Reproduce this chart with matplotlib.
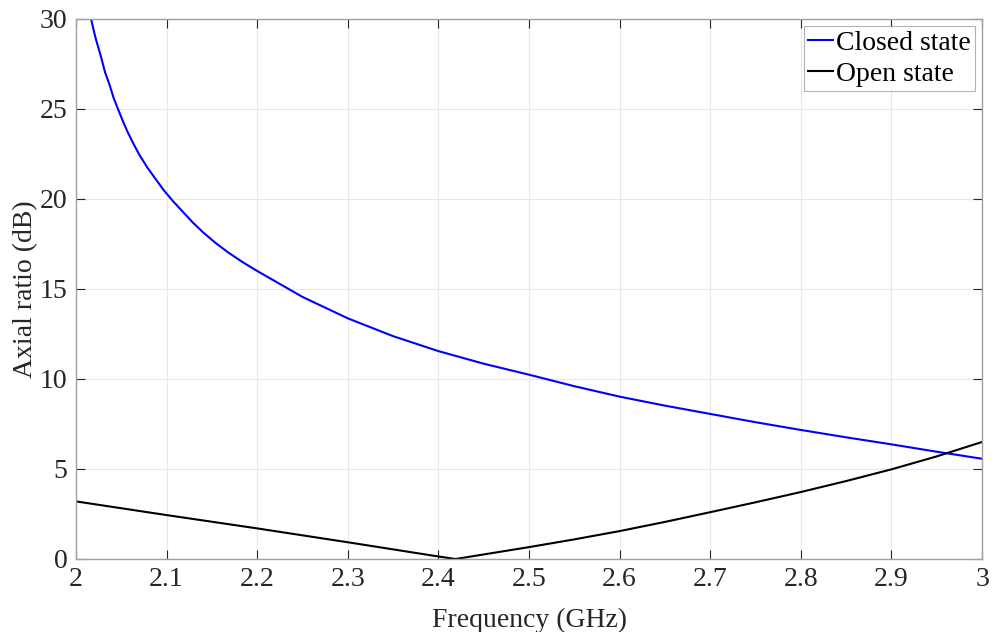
import matplotlib
matplotlib.use("Agg")
import matplotlib.pyplot as plt

# values
closed_f = [2.0166, 2.0215, 2.0276, 2.032, 2.0368, 2.0415, 2.046, 2.0515, 2.057,
            2.0635, 2.070, 2.079, 2.0883, 2.097, 2.1067, 2.117, 2.1288, 2.14,
            2.1545, 2.168, 2.184, 2.2, 2.25, 2.3, 2.35, 2.4, 2.45, 2.5, 2.55,
            2.6, 2.65, 2.7, 2.75, 2.8, 2.85, 2.9, 2.95, 3.0]
closed_ar = [30.0, 28.96, 27.9, 27.05, 26.38, 25.62, 25.04, 24.36, 23.72,
             23.06, 22.45, 21.73, 21.08, 20.48, 19.9, 19.34, 18.7, 18.16,
             17.54, 17.03, 16.49, 16.0, 14.56, 13.37, 12.38, 11.55, 10.85, 10.24, 9.6,
             9.02, 8.52, 8.06, 7.6, 7.17, 6.76, 6.37, 5.96, 5.57]

open_f = [2.0, 2.1, 2.2, 2.3, 2.4, 2.419, 2.5, 2.55, 2.6, 2.65, 2.7, 2.75,
          2.8, 2.85, 2.9, 2.95, 3.0]
open_ar = [3.2, 2.44, 1.70, 0.93, 0.14, 0.0, 0.66, 1.09, 1.55, 2.06, 2.6, 3.15,
           3.72, 4.33, 4.98, 5.7, 6.5]

xticks = [2, 2.1, 2.2, 2.3, 2.4, 2.5, 2.6, 2.7, 2.8, 2.9, 3]
xticklabels = ["2", "2.1", "2.2", "2.3", "2.4", "2.5", "2.6", "2.7", "2.8", "2.9", "3"]
yticks = [0, 5, 10, 15, 20, 25, 30]

plt.rcParams["font.family"] = ["Liberation Serif", "DejaVu Serif"]

fig = plt.figure(figsize=(9.92, 6.32), dpi=100)
ax = fig.add_axes([76 / 992, 1 - 559 / 632, 906 / 992, 540 / 632])

ax.plot(closed_f, closed_ar, color="#0000ff", lw=1.5, label="Closed state")
ax.plot(open_f, open_ar, color="#000000", lw=1.5, label="Open state")

ax.set_xlim(2, 3)
ax.set_ylim(0, 30)
ax.set_xticks(xticks)
ax.set_xticklabels(xticklabels)
ax.set_yticks(yticks)
ax.grid(True, color="#e8e8e8", lw=0.8)
ax.set_axisbelow(True)

for s in ax.spines.values():
    s.set_color("#a0a0a0")
    s.set_linewidth(1.0)
ax.tick_params(direction="in", length=6.5, width=0.8, colors="#262626",
               labelsize=20, top=True, right=True, pad=6)

ax.set_xlabel("Frequency (GHz)", fontsize=20, color="#262626", labelpad=11)
ax.set_ylabel("Axial ratio (dB)", fontsize=20, color="#262626", labelpad=1)

leg = ax.legend(loc="upper right", fontsize=20, frameon=True, fancybox=False,
                handlelength=0.9, handletextpad=0.1, borderpad=0.15,
                labelspacing=0.2, borderaxespad=0.25)
leg.get_frame().set_edgecolor("#a0a0a0")
leg.get_frame().set_linewidth(0.8)

fig.savefig("out.png", dpi=100, facecolor="white")
